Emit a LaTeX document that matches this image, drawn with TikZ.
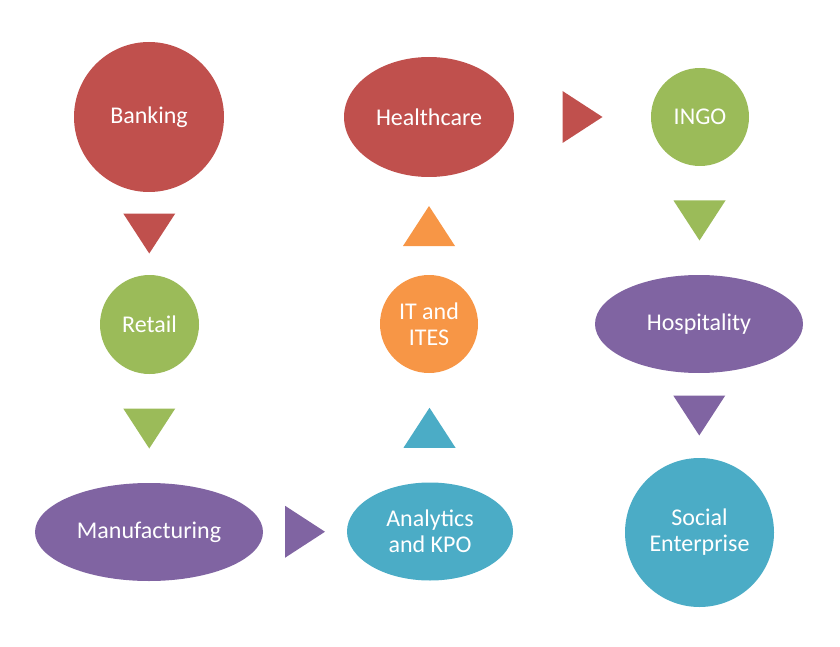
\documentclass[tikz,border=0pt]{standalone}
\usepackage{fontspec}
\setmainfont{Carlito}
\usetikzlibrary{shapes.geometric, calc}
\definecolor{offred}{HTML}{C0504D}
\definecolor{offgreen}{HTML}{9BBB59}
\definecolor{offpurple}{HTML}{8064A2}
\definecolor{offaqua}{HTML}{4BACC6}
\definecolor{offorange}{HTML}{F79646}

\begin{document}
\begin{tikzpicture}[x=1pt, y=-1pt,
    blob/.style={ellipse, inner sep=0pt, text=white, align=center,
        font=\fontsize{24}{26}\selectfont},
    arrowtri/.pic={\fill (-20,-26) -- (-20,26) -- (20,0) -- cycle;}]
    \useasboundingbox (0,0) rectangle (840,647);
    \node[blob, fill=offred, minimum width=150pt, minimum height=150pt] (banking) at (149,117) {Banking};
    \node[blob, fill=offgreen, minimum width=99pt, minimum height=99pt] (retail) at (149.5,324.5) {Retail};
    \node[blob, fill=offpurple, minimum width=228pt, minimum height=98pt] (manuf) at (149,532) {Manufacturing};
    \node[blob, fill=offaqua, minimum width=166pt, minimum height=98pt] (analytics) at (430,531.5) {Analytics\\and KPO};
    \node[blob, fill=offorange, minimum width=98pt, minimum height=98pt] (ites) at (429,324) {IT and\\ITES};
    \node[blob, fill=offred, minimum width=170pt, minimum height=120pt] (health) at (429,117) {Healthcare};
    \node[blob, fill=offgreen, minimum width=98pt, minimum height=98pt] (ingo) at (700,117) {INGO};
    \node[blob, fill=offpurple, minimum width=208pt, minimum height=98pt] (hosp) at (699,324) {Hospitality};
    \node[blob, fill=offaqua, minimum width=149pt, minimum height=149pt] (social) at (699.5,532.5) {Social\\Enterprise};

    \pic[color=offred, rotate=-90] at ($(banking.south)!0.5!(retail.north)$) {arrowtri};
    \pic[color=offgreen, rotate=-90] at ($(retail.south)!0.5!(manuf.north)$) {arrowtri};
    \pic[color=offpurple] at ($(manuf.east)!0.5!(analytics.west)$) {arrowtri};
    \pic[color=offaqua, rotate=90] at ($(analytics.north)!0.5!(ites.south)$) {arrowtri};
    \pic[color=offorange, rotate=90] at ($(ites.north)!0.5!(health.south)$) {arrowtri};
    \pic[color=offred] at ($(health.east)!0.5!(ingo.west)$) {arrowtri};
    \pic[color=offgreen, rotate=-90] at ($(ingo.south)!0.5!(hosp.north)$) {arrowtri};
    \pic[color=offpurple, rotate=-90] at ($(hosp.south)!0.5!(social.north)$) {arrowtri};
\end{tikzpicture}
\end{document}
